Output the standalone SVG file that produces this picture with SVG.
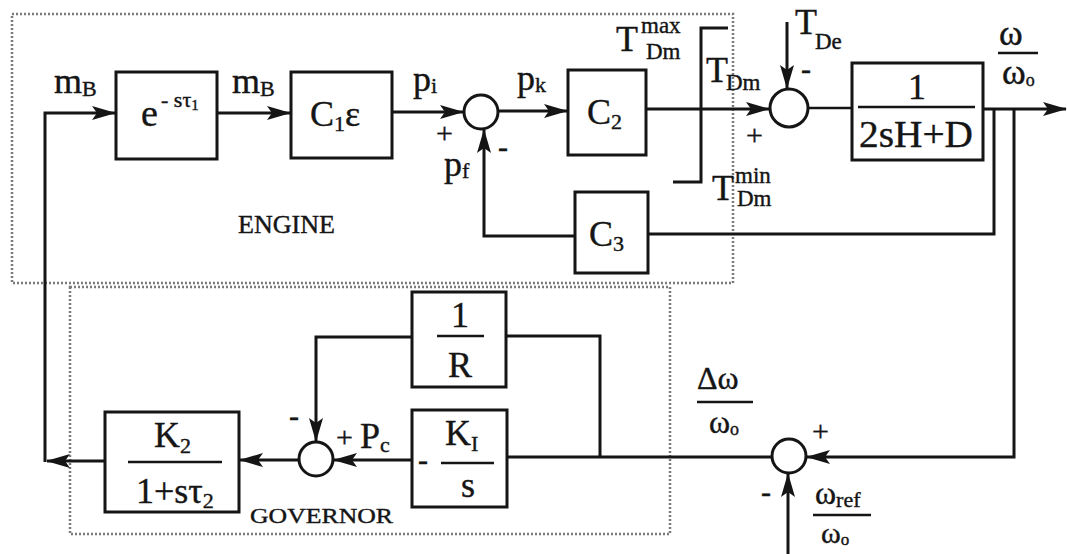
<svg xmlns="http://www.w3.org/2000/svg" width="1067" height="554" viewBox="0 0 1067 554">
<defs>
<marker id="ah" markerUnits="userSpaceOnUse" markerWidth="24" markerHeight="14" refX="23" refY="7" orient="auto">
<path d="M0,0 L24,7 L0,14 L5,7 z" fill="#151515"/>
</marker>
<style>
.ln{fill:none;stroke:#151515;stroke-width:3}
.th{fill:none;stroke:#151515;stroke-width:2.5}
.bx{fill:none;stroke:#151515;stroke-width:3}
.sj{fill:#fff;stroke:#151515;stroke-width:3}
.dot{fill:none;stroke:#7a7a7a;stroke-width:2.5;stroke-dasharray:2 2}
.bar{stroke:#151515;stroke-width:2.5}
text{font-family:"Liberation Serif","Times New Roman",serif;fill:#151515;stroke:#151515;stroke-width:0.4}
.m{font-size:36px}
.s{font-size:22px}
.sg{font-size:30px}
.lb{font-size:25px}
</style>
</defs>
<rect width="1067" height="554" fill="#fff"/>

<g id="regions">
<rect id="engine-region" class="dot" x="12" y="14" width="721" height="269"/>
<rect id="governor-region" class="dot" x="70" y="287" width="600" height="247"/>
<text x="238" y="233" class="lb" textLength="97" lengthAdjust="spacingAndGlyphs">ENGINE</text>
<text x="250" y="523" style="font-size:22px" textLength="143" lengthAdjust="spacingAndGlyphs">GOVERNOR</text>
</g>

<g id="connectors">
<path class="ln" d="M105,461 H47" marker-end="url(#ah)"/>
<path class="ln" d="M45,462 V113 H115" marker-end="url(#ah)"/>
<path class="ln" d="M217,113 H290" marker-end="url(#ah)"/>
<path class="ln" d="M392,112 H463" marker-end="url(#ah)"/>
<path class="ln" d="M498,111 H567" marker-end="url(#ah)"/>
<path class="ln" d="M646,109 H769" marker-end="url(#ah)"/>
<path class="ln" d="M728,28 H701 V182 H673"/>
<path class="ln" d="M787,22 V88" marker-end="url(#ah)"/>
<path class="th" d="M808,108 H852"/>
<path class="ln" d="M983,109 H1066" marker-end="url(#ah)"/>
<path class="ln" d="M994,109 V234 H648"/>
<path class="ln" d="M575,236 H484 V130" marker-end="url(#ah)"/>
<path class="ln" d="M1014,109 V457 H807" marker-end="url(#ah)"/>
<path class="ln" d="M772,457 H507"/>
<path class="ln" d="M600,457 V336 H506"/>
<path class="ln" d="M412,337 H316 V441" marker-end="url(#ah)"/>
<path class="ln" d="M412,460 H334" marker-end="url(#ah)"/>
<path class="ln" d="M299,460 H240" marker-end="url(#ah)"/>
<path class="ln" d="M788,554 V474" marker-end="url(#ah)"/>
</g>

<g id="label-mB-in">
<text x="54" y="93" class="m">m<tspan class="s" dy="3">B</tspan></text>
</g>
<g id="block-delay">
<rect class="bx" x="116" y="72" width="101" height="87"/>
<text x="141" y="126" style="font-size:38px">e</text>
<text x="161" y="107" class="s">- sτ<tspan style="font-size:15px" dy="3">1</tspan></text>
</g>
<g id="label-mB-out">
<text x="232" y="93" class="m">m<tspan class="s" dy="3">B</tspan></text>
</g>
<g id="block-C1">
<rect class="bx" x="291" y="72" width="101" height="86"/>
<text x="310" y="126" class="m">C<tspan class="s" dy="5">1</tspan><tspan dy="-5">ε</tspan></text>
</g>
<g id="label-pi"><text x="413" y="91" class="m">p<tspan class="s" dy="2">i</tspan></text></g>
<g id="sum-1">
<circle class="sj" cx="481" cy="112" r="17"/>
<text x="436" y="143" class="sg">+</text>
<text x="498" y="157" class="sg">-</text>
</g>
<g id="label-pk"><text x="517" y="90" class="m">p<tspan class="s" dy="2">k</tspan></text></g>
<g id="label-pf"><text x="444" y="176" class="m">p<tspan class="s" dy="2">f</tspan></text></g>
<g id="block-C2">
<rect class="bx" x="568" y="70" width="78" height="85"/>
<text x="587" y="124" class="m">C<tspan class="s" dy="5">2</tspan></text>
</g>
<g id="block-C3">
<rect class="bx" x="575" y="192" width="73" height="81"/>
<text x="589" y="246" class="m">C<tspan class="s" dy="5">3</tspan></text>
</g>
<g id="limiter-labels">
<text x="616" y="51" class="m">T</text>
<text x="641" y="33" style="font-size:23px">max</text>
<text x="646" y="59" style="font-size:23px">Dm</text>
<text x="706" y="82" class="m">T</text>
<text x="726" y="90" style="font-size:23px">Dm</text>
<text x="712" y="200" class="m">T</text>
<text x="735" y="183" style="font-size:23px">min</text>
<text x="737" y="206" style="font-size:23px">Dm</text>
</g>
<g id="sum-2">
<circle class="sj" cx="789" cy="108" r="19"/>
<text x="746" y="145" class="sg">+</text>
<text x="801" y="79" class="sg">-</text>
<text x="795" y="34" class="m">T</text>
<text x="815" y="49" style="font-size:23px">De</text>
</g>
<g id="block-plant">
<rect class="bx" x="852" y="63" width="131" height="97"/>
<text x="917" y="99" class="m" text-anchor="middle">1</text>
<line class="bar" x1="858" y1="107" x2="975" y2="107"/>
<text x="859" y="147" style="font-size:38px" textLength="114" lengthAdjust="spacingAndGlyphs">2sH+D</text>
</g>
<g id="label-omega-out">
<text x="999" y="45" class="m">ω</text>
<line class="bar" x1="998" y1="53" x2="1038" y2="53"/>
<text x="1002" y="84" class="m">ω<tspan style="font-size:18px" dy="2">o</tspan></text>
</g>
<g id="block-R">
<rect class="bx" x="412" y="292" width="94" height="95"/>
<text x="460" y="327" class="m" text-anchor="middle">1</text>
<line class="bar" x1="437" y1="336" x2="484" y2="336"/>
<text x="460" y="377" class="m" text-anchor="middle">R</text>
</g>
<g id="block-KI">
<rect class="bx" x="412" y="410" width="95" height="97"/>
<text x="418" y="470" class="sg">-</text>
<text x="445" y="445" class="m">K<tspan class="s" dy="6">I</tspan></text>
<line class="bar" x1="441" y1="463" x2="494" y2="463"/>
<text x="468" y="497" class="m" text-anchor="middle">s</text>
</g>
<g id="sum-gov">
<circle class="sj" cx="316" cy="459" r="17"/>
<text x="289" y="426" class="sg">-</text>
<text x="336" y="447" class="sg">+</text>
<text x="360" y="448" class="m">P<tspan class="s" dy="4">c</tspan></text>
</g>
<g id="block-K2">
<rect class="bx" x="105" y="412" width="134" height="100"/>
<text x="154" y="447" class="m">K<tspan class="s" dy="6">2</tspan></text>
<line class="bar" x1="128" y1="462" x2="222" y2="462"/>
<text x="136" y="503" class="m">1+sτ<tspan class="s" dy="5">2</tspan></text>
</g>
<g id="label-dw">
<text x="697" y="389" style="font-size:32px">Δω</text>
<line class="bar" x1="697" y1="402" x2="753" y2="402"/>
<text x="709" y="433" style="font-size:32px">ω<tspan style="font-size:18px" dy="2">o</tspan></text>
</g>
<g id="sum-ref">
<circle class="sj" cx="789" cy="456" r="17"/>
<text x="812" y="441" class="sg">+</text>
<text x="761" y="502" class="sg">-</text>
</g>
<g id="label-wref">
<text x="815" y="504" style="font-size:32px">ω<tspan class="s" dy="3">ref</tspan></text>
<line class="bar" x1="813" y1="515" x2="871" y2="515"/>
<text x="821" y="543" style="font-size:30px">ω<tspan style="font-size:17px" dy="2">o</tspan></text>
</g>
</svg>
